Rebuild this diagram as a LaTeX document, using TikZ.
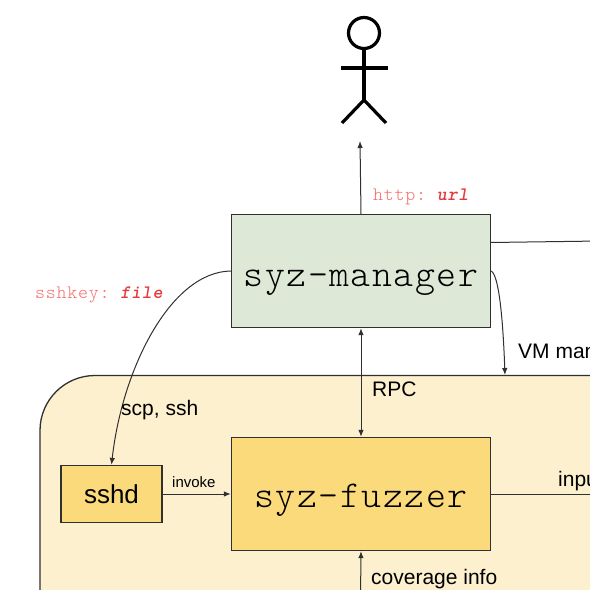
\documentclass[tikz,border=0pt]{standalone}
\usepackage{fontspec}
\setmainfont{Liberation Sans}
\setmonofont{Latin Modern Mono Light}[LetterSpace=4]
\usetikzlibrary{arrows.meta}
\definecolor{mgrgreen}{HTML}{DDE8D6}
\definecolor{procyellow}{HTML}{FADA7A}
\definecolor{vmyellow}{HTML}{FCF0CE}
\definecolor{linegray}{HTML}{303030}
\definecolor{keyred}{HTML}{F4706C}
\definecolor{valred}{HTML}{E8373A}
\tikzset{
  box/.style={draw=linegray, line width=1.3pt, inner sep=0pt},
  bigbox/.style={box, minimum width=259pt, minimum height=113pt, text height=30pt, text depth=0pt,
    font=\ttfamily\fontsize{38}{42}\selectfont},
  conn/.style={line width=1pt, draw=linegray, -{Latex[length=7pt,width=5.5pt]}},
  lbl/.style={anchor=base west, inner sep=0pt, font=\fontsize{21}{25}\selectfont},
  redlbl/.style={lbl, text=keyred, font=\ttfamily\fontsize{19}{23}\selectfont},
  stick/.style={line width=3.2pt, draw=black}
}
\newcommand{\redval}[1]{\textcolor{valred}{\bfseries\itshape #1}}
\begin{document}
\begin{tikzpicture}[x=1pt, y=-1pt]
  \clip (0, 0) rectangle (590, 590);
  \fill[white] (0, 0) rectangle (590, 590);

  % vm area
  \draw[fill=vmyellow, draw=linegray, line width=1.3pt, rounded corners=55pt] (40, 375.5) rectangle (720, 720);

  % boxes
  \node[bigbox, fill=mgrgreen] (manager) at (361, 271) {syz-manager};
  \node[bigbox, fill=procyellow, text height=26pt] (fuzzer) at (361, 494) {syz-fuzzer};
  \node[box, fill=procyellow, minimum width=101pt, minimum height=57pt,
    font=\fontsize{26}{30}\selectfont] (sshd) at (111.5, 494) {sshd};

  % stick figure
  \node[circle, draw, line width=3.2pt, minimum size=31pt, inner sep=0pt] (head) at (364, 33) {};
  \coordinate (hip) at (364, 100);
  \coordinate (armL) at (341, 68);
  \coordinate (armR) at (388, 68);
  \coordinate (legL) at (342, 123);
  \coordinate (legR) at (386, 123);
  \draw[stick] (head.south) -- (hip);
  \draw[stick] (armL) -- (armR);
  \draw[stick] (legL) -- (hip) -- (legR);

  % free ends
  \coordinate (userend) at (360, 141);
  \coordinate (vmtop) at (505, 375);
  \coordinate (mgrport) at (490.5, 242.5);
  \coordinate (mgrout) at (600, 241);
  \coordinate (inputout) at (600, 494);
  \coordinate (covstart) at (360.5, 600);

  % connectors
  \draw[conn] (manager.north) -- (userend);
  \draw[conn, {Latex[length=7pt,width=5.5pt]}-{Latex[length=7pt,width=5.5pt]}] (manager.south) -- (fuzzer.north);
  \draw[conn] (manager.west) .. controls (170, 272) and (122, 370) .. (sshd.north);
  \draw[conn] (manager.east) .. controls (499, 275) and (503, 320) .. (vmtop);
  \draw[conn, -] (mgrport) -- (mgrout);
  \draw[conn] (sshd.east) -- (fuzzer.west);
  \draw[conn, -] (fuzzer.east) -- (inputout);
  \draw[conn] (covstart) -- (fuzzer.south);

  % labels
  \node[redlbl] (httplbl) at (373, 200) {http: \redval{url}};
  \node[redlbl] (keylbl) at (35, 298) {sshkey: \redval{file}};
  \node[lbl] (rpclbl) at (372, 396) {RPC};
  \node[lbl] (scplbl) at (121, 415) {scp, ssh};
  \node[lbl] (vmlbl) at (518, 358) {VM man};
  \node[lbl] (inputlbl) at (558, 486) {inpu};
  \node[lbl] (covlbl) at (371, 584) {coverage info};
  \node[lbl, font=\fontsize{15}{18}\selectfont] (invokelbl) at (172, 487) {invoke};
\end{tikzpicture}
\end{document}
